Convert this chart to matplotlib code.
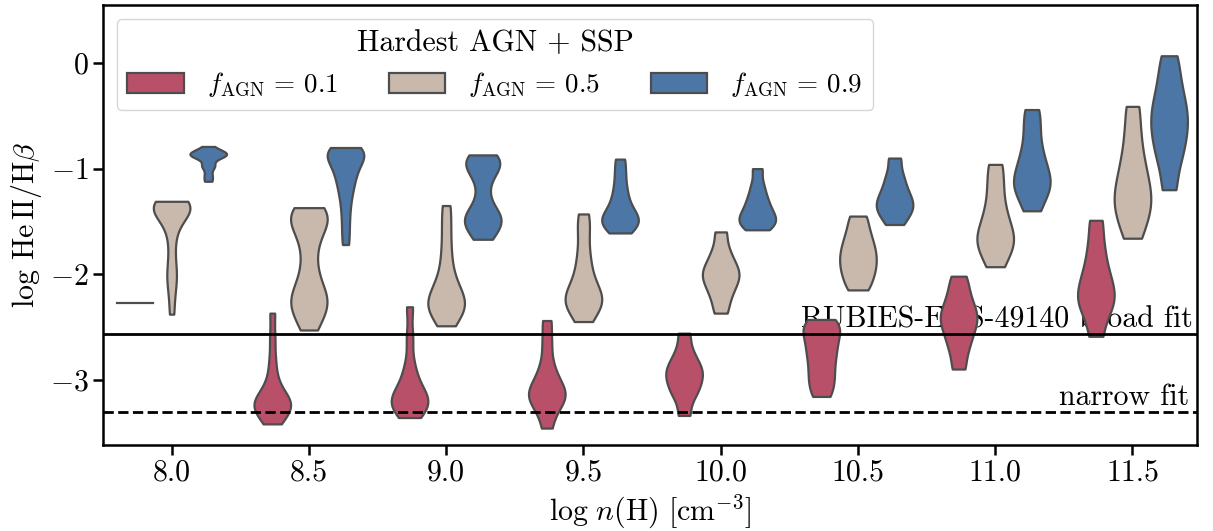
import numpy as np
import pandas as pd
import matplotlib
matplotlib.use('Agg')
import matplotlib.pyplot as plt
import matplotlib.transforms as mtransforms
from matplotlib.patches import Patch
import seaborn as sns

plt.rcParams['font.family'] = ['cmr10', 'DejaVu Serif']
plt.rcParams['mathtext.fontset'] = 'cm'
plt.rcParams['axes.formatter.use_mathtext'] = True
plt.rcParams['font.size'] = 21.5

# log n(H) grid
densities = [8.0, 8.5, 9.0, 9.5, 10.0, 10.5, 11.0, 11.5]
fagn_values = [0.1, 0.5, 0.9]

# log HeII/Hbeta samples for each density, one list per f_AGN
ratio_f01 = [
    [-2.27, -2.27, -2.27, -2.27, -2.27],
    [-2.37, -2.60, -2.80, -2.95, -3.05, -3.12, -3.16, -3.19, -3.21, -3.23, -3.25, -3.27, -3.30, -3.34, -3.38, -3.42],
    [-2.31, -2.60, -2.85, -2.98, -3.07, -3.13, -3.17, -3.20, -3.23, -3.26, -3.30, -3.36],
    [-2.44, -2.65, -2.85, -2.97, -3.05, -3.10, -3.14, -3.18, -3.22, -3.30, -3.46],
    [-2.56, -2.72, -2.82, -2.88, -2.93, -2.98, -3.04, -3.10, -3.18, -3.34],
    [-2.43, -2.48, -2.54, -2.61, -2.69, -2.77, -2.86, -2.96, -3.05, -3.16],
    [-2.02, -2.15, -2.26, -2.34, -2.40, -2.46, -2.53, -2.62, -2.73, -2.90],
    [-1.49, -1.72, -1.90, -2.03, -2.13, -2.21, -2.29, -2.38, -2.59],
]
ratio_f05 = [
    [-1.31, -1.31, -1.32, -1.33, -1.34, -1.35, -1.36, -1.38, -1.40, -1.42, -1.45, -1.49,
     -1.55, -1.65, -1.78, -1.92, -2.00, -2.08, -2.20, -2.38],
    [-1.37, -1.40, -1.43, -1.46, -1.50, -1.56, -1.64, -1.75, -1.90, -2.02, -2.12, -2.18, -2.23, -2.27, -2.31, -2.36, -2.44, -2.53],
    [-1.35, -1.55, -1.75, -1.92, -2.05, -2.13, -2.19, -2.24, -2.28, -2.31, -2.35, -2.40, -2.49],
    [-1.43, -1.60, -1.80, -1.95, -2.07, -2.15, -2.21, -2.25, -2.29, -2.34, -2.45],
    [-1.60, -1.76, -1.86, -1.93, -1.98, -2.03, -2.08, -2.15, -2.24, -2.37],
    [-1.45, -1.58, -1.68, -1.76, -1.83, -1.90, -1.97, -2.05, -2.15],
    [-0.96, -1.15, -1.33, -1.47, -1.57, -1.65, -1.72, -1.79, -1.93],
    [-0.41, -0.65, -0.85, -1.00, -1.12, -1.22, -1.31, -1.40, -1.50, -1.66],
]
ratio_f09 = [
    [-0.79, -0.83, -0.85, -0.86, -0.86, -0.87, -0.88, -0.90, -0.97, -0.98, -1.06, -1.12],
    [-0.80, -0.81, -0.82, -0.84, -0.86, -0.88, -0.91, -0.95, -0.99, -1.04, -1.09, -1.15,
     -1.22, -1.31, -1.43, -1.57, -1.72],
    [-0.87, -0.90, -0.93, -0.97, -1.02, -1.10, -1.25, -1.38, -1.43, -1.47, -1.50, -1.54, -1.60, -1.67],
    [-0.91, -1.05, -1.18, -1.28, -1.36, -1.42, -1.46, -1.49, -1.52, -1.56, -1.61],
    [-1.00, -1.15, -1.25, -1.32, -1.38, -1.43, -1.47, -1.50, -1.54, -1.58],
    [-0.90, -1.05, -1.15, -1.23, -1.29, -1.34, -1.39, -1.44, -1.53],
    [-0.44, -0.62, -0.80, -0.93, -1.03, -1.11, -1.18, -1.25, -1.40],
    [0.07, -0.12, -0.28, -0.40, -0.50, -0.60, -0.70, -0.82, -0.96, -1.20],
]

broad_fit = -2.57
narrow_fit = -3.31

colors = ['#b9506a', '#c9b8ac', '#4b76a6']
edge = '#4d4d4d'

rows = []
for f, per_density in zip(fagn_values, [ratio_f01, ratio_f05, ratio_f09]):
    for n, vals in zip(densities, per_density):
        for v in vals:
            rows.append((n, f, v))
df = pd.DataFrame(rows, columns=['logn', 'fagn', 'ratio'])

fig = plt.figure(figsize=(12.13, 5.31), dpi=100)
ax = fig.add_axes([0.0849, 0.162, 0.9019, 0.8284])

sns.violinplot(data=df, x='logn', y='ratio', hue='fagn', order=densities,
               hue_order=fagn_values, palette=colors, saturation=1,
               cut=0, inner=None, density_norm='width', bw_adjust=0.6,
               linewidth=1.6, linecolor=edge, legend=False, ax=ax)

ax.axhline(broad_fit, color='k', lw=2, zorder=3)
ax.axhline(narrow_fit, color='k', lw=2, ls='--', zorder=3)
trans = mtransforms.blended_transform_factory(ax.transAxes, ax.transData)
ax.text(0.996, broad_fit + 0.01, 'RUBIES-EGS-49140 broad fit', transform=trans,
        ha='right', va='bottom', zorder=0.5)
ax.text(0.993, narrow_fit + 0.01, 'narrow fit', transform=trans,
        ha='right', va='bottom', zorder=0.5)

ax.set_xlim(-0.5, 7.47)
ax.set_ylim(-3.62, 0.55)
ax.set_yticks([0, -1, -2, -3])
ax.set_xticks(range(len(densities)))
ax.set_xticklabels([f'{d:.1f}' for d in densities])
ax.set_xlabel(r'$\log\,n(\mathrm{H})\ [\mathrm{cm}^{-3}]$')
ax.set_ylabel(r'log He$\,$II/H$\beta$')
ax.tick_params(width=1.8, length=7)
for s in ax.spines.values():
    s.set_linewidth(1.8)

handles = [Patch(facecolor=c, edgecolor=edge, linewidth=1.6) for c in colors]
labels = [rf'$f_\mathrm{{AGN}}\,=\,{f}$' for f in fagn_values]
ax.legend(handles, labels, title='Hardest AGN + SSP', ncol=3, loc='upper left',
          fontsize=19.5, title_fontsize=21.5, handlelength=2.1,
          handleheight=0.75, handletextpad=0.85, columnspacing=1.85)

fig.savefig('out.png', dpi=100)
